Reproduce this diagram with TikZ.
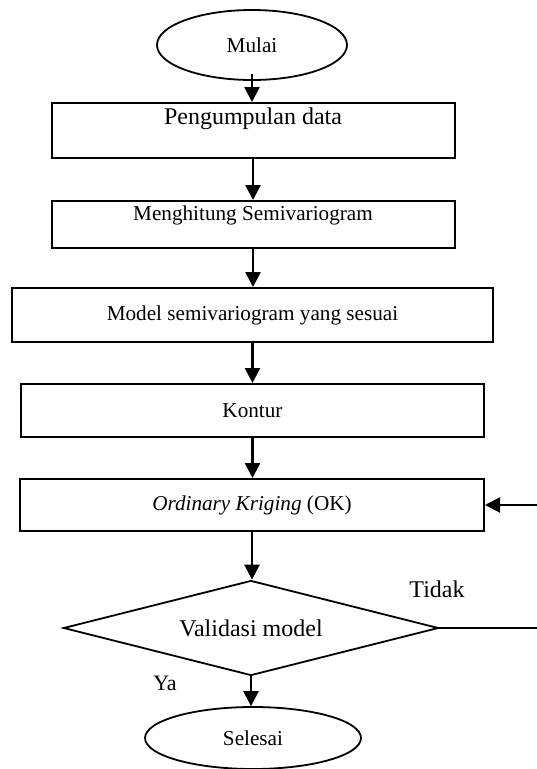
\documentclass[tikz,border=0pt]{standalone}
\usepackage{fontspec}
\setmainfont{Liberation Serif}
\usetikzlibrary{arrows.meta,shapes.geometric}
\begin{document}
\begin{tikzpicture}[x=1pt,y=-1pt,
    proc/.style={draw,line width=2pt,inner sep=0pt},
    term/.style={draw,ellipse,line width=1.8pt,inner sep=0pt},
    sm/.style={font=\fontsize{21.2}{25}\selectfont},
    lg/.style={font=\fontsize{24}{28}\selectfont},
    arr/.style={line width=2.6pt,-{Triangle[length=15pt,width=15pt]}}]
                \useasboundingbox (0,0) rectangle (536,769);
                \node[term,sm,minimum width=190pt,minimum height=70pt] (mulai) at (252,45) {Mulai};
                \node[proc,minimum width=403pt,minimum height=55pt] (data) at (253,130.5) {};
                \node[lg] (datatxt) at ([yshift=11.5pt]data.center) {Pengumpulan data};
                \node[proc,minimum width=403pt,minimum height=47pt] (semvar) at (253,224.5) {};
                \node[sm] (semvartxt) at ([yshift=9.5pt]semvar.center) {Menghitung Semivariogram};
                \node[proc,sm,minimum width=481pt,minimum height=54pt] (model) at (252.5,315) {Model semivariogram yang sesuai};
                \node[proc,sm,minimum width=463pt,minimum height=53pt] (kontur) at (252.5,410.5) {Kontur};
                \node[proc,sm,minimum width=464pt,minimum height=52pt] (ok) at (252,505) {\textit{Ordinary Kriging} (OK)};
                \node[draw,diamond,aspect=4,line width=1.8pt,inner sep=0pt,lg,minimum width=375pt,minimum height=95pt] (valid) at (251,628) {Validasi model};
                \node[term,sm,minimum width=216pt,minimum height=62pt] (selesai) at (253,738) {Selesai};
                \node[lg] (tidak) at (437,589) {Tidak};
                \node[font=\fontsize{22}{26}\selectfont] (ya) at (165,683) {Ya};
                % alur utama
                \draw[arr] ([yshift=7pt]mulai.south) -- (mulai.south |- data.north);
                \draw[arr] (data.south) -- (data.south |- semvar.north);
                \draw[arr] (semvar.south) -- (semvar.south |- model.north);
                \draw[arr] (model.south) -- (model.south |- kontur.north);
                \draw[arr] (kontur.south) -- (kontur.south |- ok.north);
                \draw[arr] (ok.south) -- (ok.south |- valid.north);
                \draw[arr] (valid.south) -- (valid.south |- selesai.north);
                % kembali jika tidak valid
                \draw[arr,line width=2pt] (valid.east) -- ++(102,0) |- (ok.east);
            \end{tikzpicture}
\end{document}
